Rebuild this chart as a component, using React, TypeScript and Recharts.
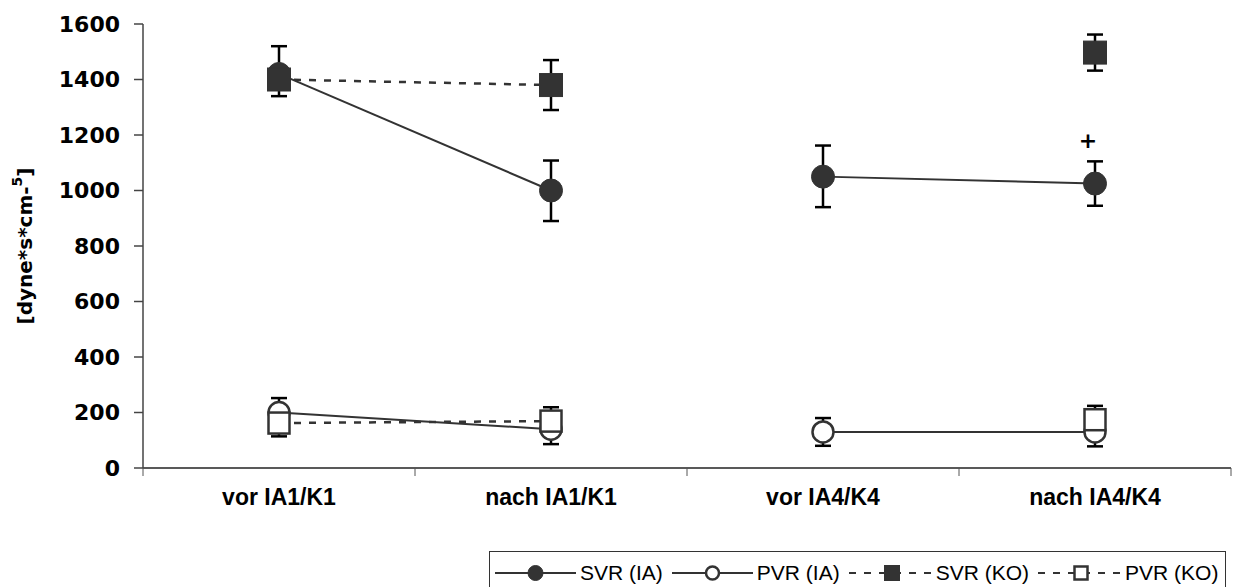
import React from "react";
import { ComposedChart, Line, XAxis, YAxis, ErrorBar, ReferenceDot, Legend } from "recharts";

const W = 1233;
const H = 587;
const M = { top: 24, right: 2, bottom: 59, left: 0 };
const Y_AXIS_W = 143;
const BAND = (W - M.left - Y_AXIS_W - M.right) / 4;

const DARK = "#333333";
const BAR = "#000000";

const categories = ["vor IA1/K1", "nach IA1/K1", "vor IA4/K4", "nach IA4/K4"];
const xTicks = [0, 1, 2, 3, 4];
const yTicks = [0, 200, 400, 600, 800, 1000, 1200, 1400, 1600];
const seriesNames = ["SVR (IA)", "PVR (IA)", "SVR (KO)", "PVR (KO)"];

// values, errors as [minus, plus]
const svrIA = [1420, 1000, 1050, 1025];
const svrIAErr = [[0, 100], [110, 108], [110, 112], [80, 80]];
const pvrIA = [200, 140, 130, 130];
const pvrIAErr = [[52, 52], [54, 54], [50, 50], [52, 52]];
const svrKO = [1400, 1380, null, 1497];
const svrKOErr = [[60, 0], [90, 90], null, [65, 65]];
const pvrKO = [162, 169, null, 174];
const pvrKOErr = [[48, 0], [0, 50], null, [0, 50]];

// lines only join the points within each pair of time points
const segments = [[0, 1], [2, 3]];
const plusMark = { x: 3.5, y: 1180, text: "+" };

const series = [
  { key: "pvrIA", values: pvrIA, errs: pvrIAErr, shape: "circle", filled: false, dashed: false },
  { key: "pvrKO", values: pvrKO, errs: pvrKOErr, shape: "square", filled: false, dashed: true },
  { key: "svrIA", values: svrIA, errs: svrIAErr, shape: "circle", filled: true, dashed: false },
  { key: "svrKO", values: svrKO, errs: svrKOErr, shape: "square", filled: true, dashed: true },
];

const data = categories.map((name, i) => {
  const row: any = { x: i + 0.5, name };
  series.forEach((s) => {
    segments.forEach((seg, k) => {
      const inSeg = seg.includes(i);
      row[`${s.key}_${k}`] = inSeg ? s.values[i] : null;
      row[`${s.key}_${k}_err`] = inSeg ? s.errs[i] : null;
    });
  });
  return row;
});

const makeDot = (shape: string, filled: boolean) => (props: any) => {
  const { cx, cy, index } = props;
  const k = `dot-${index}`;
  if (cx == null || cy == null || Number.isNaN(cy)) return <g key={k} />;
  const fill = filled ? DARK : "#ffffff";
  const sw = filled ? 1 : 2.5;
  if (shape === "circle") {
    return <circle key={k} cx={cx} cy={cy} r={filled ? 11.5 : 10.5} fill={fill} stroke={DARK} strokeWidth={sw} />;
  }
  const s = filled ? 23 : 21;
  return <rect key={k} x={cx - s / 2} y={cy - s / 2} width={s} height={s} fill={fill} stroke={DARK} strokeWidth={sw} />;
};

function XTick(props: any) {
  const { x, y, payload } = props;
  const v = payload.value;
  if (v >= categories.length) return <g />;
  return (
    <text
      x={x + BAND / 2}
      y={y + 27}
      textAnchor="middle"
      fontFamily="'Liberation Sans', Arial, sans-serif"
      fontWeight="bold"
      fontSize={23}
      fill="#000"
    >
      {categories[v]}
    </text>
  );
}

function YLabel(props: any) {
  const { viewBox } = props;
  const cy = viewBox.y + viewBox.height / 2;
  const cx = 25;
  return (
    <text
      x={cx}
      y={cy}
      transform={`rotate(-90, ${cx}, ${cy})`}
      textAnchor="middle"
      dominantBaseline="central"
      fontFamily="'DejaVu Sans', sans-serif"
      fontWeight="bold"
      fontSize={20}
      fill="#000"
    >
      [dyne*s*cm-
      <tspan dy={-8} fontSize={14}>5</tspan>
      <tspan dy={8}>]</tspan>
    </text>
  );
}

function LegendSample({ shape, filled, dashed, width }: any) {
  const mid = width / 2;
  return (
    <svg width={width} height={20} style={{ display: "block" }}>
      <line
        x1={0}
        x2={width}
        y1={10}
        y2={10}
        stroke={DARK}
        strokeWidth={2}
        strokeDasharray={dashed ? "7 8" : undefined}
      />
      {shape === "circle" ? (
        <circle cx={mid} cy={10} r={filled ? 7.5 : 6.5} fill={filled ? DARK : "#fff"} stroke={DARK} strokeWidth={filled ? 1 : 2.5} />
      ) : (
        <rect
          x={mid - (filled ? 7.5 : 6.5)}
          y={10 - (filled ? 7.5 : 6.5)}
          width={filled ? 15 : 13}
          height={filled ? 15 : 13}
          fill={filled ? DARK : "#fff"}
          stroke={DARK}
          strokeWidth={filled ? 1 : 2.5}
        />
      )}
    </svg>
  );
}

const legendOrder = [
  { name: seriesNames[0], shape: "circle", filled: true, dashed: false, width: 81 },
  { name: seriesNames[1], shape: "circle", filled: false, dashed: false, width: 81 },
  { name: seriesNames[2], shape: "square", filled: true, dashed: true, width: 86 },
  { name: seriesNames[3], shape: "square", filled: false, dashed: true, width: 86 },
];

function LegendBox() {
  return (
    <div
      style={{
        boxSizing: "border-box",
        width: 737,
        height: 44,
        border: "1.5px solid #333",
        background: "#fff",
        display: "flex",
        alignItems: "center",
        paddingLeft: 5,
        fontFamily: "'Liberation Sans', Arial, sans-serif",
        fontSize: 21,
        color: "#000",
      }}
    >
      {legendOrder.map((it, i) => (
        <div key={it.name} style={{ display: "flex", alignItems: "center", marginRight: i < 3 ? 9 : 0 }}>
          <LegendSample {...it} />
          <span style={{ marginLeft: it.dashed ? 1 : 4, lineHeight: "24px" }}>{it.name}</span>
        </div>
      ))}
    </div>
  );
}

export default function App() {
  return (
    <div style={{ position: "absolute", left: 0, top: 0, width: W, height: H, background: "#fff" }}>
      <ComposedChart width={W} height={H} data={data} margin={M}>
        <XAxis
          type="number"
          dataKey="x"
          domain={[0, 4]}
          ticks={xTicks}
          interval={0}
          height={60}
          tickSize={8}
          axisLine={{ stroke: "#222", strokeWidth: 1.5 }}
          tickLine={{ stroke: "#555", strokeWidth: 1 }}
          tick={<XTick />}
        />
        <YAxis
          type="number"
          domain={[0, 1600]}
          ticks={yTicks}
          interval={0}
          width={Y_AXIS_W}
          tickSize={9}
          tickMargin={14}
          axisLine={{ stroke: "#444", strokeWidth: 1.5 }}
          tickLine={{ stroke: "#444", strokeWidth: 1.5 }}
          tick={{ fontFamily: "'DejaVu Sans', sans-serif", fontWeight: "bold", fontSize: 22, fill: "#000" }}
          label={<YLabel />}
        />
        <Legend
          layout="horizontal"
          verticalAlign="middle"
          align="center"
          content={<LegendBox />}
          wrapperStyle={{ left: 489, top: 551, width: 737, height: 44 }}
        />
        {series.flatMap((s) =>
          segments.map((_, k) => (
            <Line
              key={`${s.key}_${k}`}
              dataKey={`${s.key}_${k}`}
              type="linear"
              stroke={DARK}
              strokeWidth={s.dashed ? 2.5 : 2}
              strokeDasharray={s.dashed ? "7 8" : undefined}
              dot={makeDot(s.shape, s.filled)}
              activeDot={false}
              connectNulls={false}
              legendType="none"
              isAnimationActive={false}
            >
              <ErrorBar dataKey={`${s.key}_${k}_err`} direction="y" width={8} stroke={BAR} strokeWidth={2.5} />
            </Line>
          ))
        )}
        <ReferenceDot
          x={plusMark.x}
          y={plusMark.y}
          r={0}
          shape={(p: any) => (
            <text
              x={p.cx - 7}
              y={p.cy}
              textAnchor="middle"
              dominantBaseline="central"
              fontFamily="'DejaVu Sans', sans-serif"
              fontWeight="bold"
              fontSize={22}
              fill="#000"
            >
              {plusMark.text}
            </text>
          )}
        />
      </ComposedChart>
    </div>
  );
}
